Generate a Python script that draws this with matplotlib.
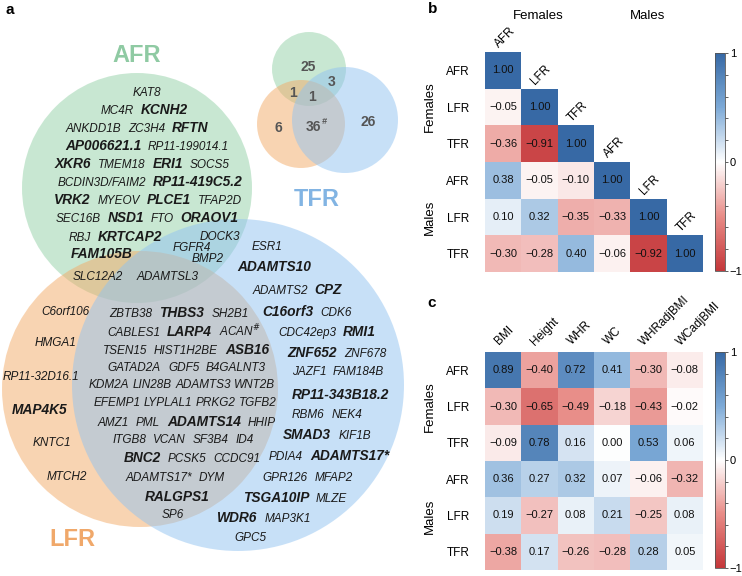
import matplotlib
matplotlib.use("Agg")
import matplotlib.pyplot as plt
import numpy as np
from matplotlib.patches import Circle
from matplotlib.offsetbox import TextArea, HPacker, AnnotationBbox
from matplotlib.colors import LinearSegmentedColormap

plt.rcParams['font.family'] = ['Liberation Sans', 'DejaVu Sans']

# ---------------- data ----------------
set_names = ["AFR", "LFR", "TFR"]
# small Venn counts: AFR only, AFR&TFR, AFR&LFR, all, LFR only, LFR&TFR, TFR only
venn_counts = ["25", "3", "1", "1", "6", "36", "26"]

# gene lines in the big Venn: (name, bold)
gene_lines = [
    [("KAT8", 0)],
    [("MC4R", 0), ("KCNH2", 1)],
    [("ANKDD1B", 0), ("ZC3H4", 0), ("RFTN", 1)],
    [("AP006621.1", 1), ("RP11-199014.1", 0)],
    [("XKR6", 1), ("TMEM18", 0), ("ERI1", 1), ("SOCS5", 0)],
    [("BCDIN3D/FAIM2", 0), ("RP11-419C5.2", 1)],
    [("VRK2", 1), ("MYEOV", 0), ("PLCE1", 1), ("TFAP2D", 0)],
    [("SEC16B", 0), ("NSD1", 1), ("FTO", 0), ("ORAOV1", 1)],
    [("RBJ", 0), ("KRTCAP2", 1)],
    [("DOCK3", 0)],
    [("FAM105B", 1)],
    [("FGFR4", 0)],
    [("BMP2", 0)],
    [("SLC12A2", 0)],
    [("ADAMTSL3", 0)],
    [("C6orf106", 0)],
    [("HMGA1", 0)],
    [("RP11-32D16.1", 0)],
    [("MAP4K5", 1)],
    [("KNTC1", 0)],
    [("MTCH2", 0)],
    [("ZBTB38", 0), ("THBS3", 1), ("SH2B1", 0)],
    [("CABLES1", 0), ("LARP4", 1), ("ACAN$^{\\#}$", 0)],
    [("TSEN15", 0), ("HIST1H2BE", 0), ("ASB16", 1)],
    [("GATAD2A", 0), ("GDF5", 0), ("B4GALNT3", 0)],
    [("KDM2A", 0), ("LIN28B", 0), ("ADAMTS3", 0), ("WNT2B", 0)],
    [("EFEMP1", 0), ("LYPLAL1", 0), ("PRKG2", 0), ("TGFB2", 0)],
    [("AMZ1", 0), ("PML", 0), ("ADAMTS14", 1), ("HHIP", 0)],
    [("ITGB8", 0), ("VCAN", 0), ("SF3B4", 0), ("ID4", 0)],
    [("BNC2", 1), ("PCSK5", 0), ("CCDC91", 0)],
    [("ADAMTS17*", 0), ("DYM", 0)],
    [("RALGPS1", 1)],
    [("SP6", 0)],
    [("ESR1", 0)],
    [("ADAMTS10", 1)],
    [("ADAMTS2", 0), ("CPZ", 1)],
    [("C16orf3", 1), ("CDK6", 0)],
    [("CDC42ep3", 0), ("RMI1", 1)],
    [("ZNF652", 1), ("ZNF678", 0)],
    [("JAZF1", 0), ("FAM184B", 0)],
    [("RP11-343B18.2", 1)],
    [("RBM6", 0), ("NEK4", 0)],
    [("SMAD3", 1), ("KIF1B", 0)],
    [("PDIA4", 0), ("ADAMTS17*", 1)],
    [("GPR126", 0), ("MFAP2", 0)],
    [("TSGA10IP", 1), ("MLZE", 0)],
    [("WDR6", 1), ("MAP3K1", 0)],
    [("GPC5", 0)],
]

fr_labels = ["AFR", "LFR", "TFR", "AFR", "LFR", "TFR"]
sex_labels = ["Females", "Males"]
corr_b = np.array([
    [1.00, np.nan, np.nan, np.nan, np.nan, np.nan],
    [-0.05, 1.00, np.nan, np.nan, np.nan, np.nan],
    [-0.36, -0.91, 1.00, np.nan, np.nan, np.nan],
    [0.38, -0.05, -0.10, 1.00, np.nan, np.nan],
    [0.10, 0.32, -0.35, -0.33, 1.00, np.nan],
    [-0.30, -0.28, 0.40, -0.06, -0.92, 1.00],
])
traits = ["BMI", "Height", "WHR", "WC", "WHRadjBMI", "WCadjBMI"]
corr_c = np.array([
    [0.89, -0.40, 0.72, 0.41, -0.30, -0.08],
    [-0.30, -0.65, -0.49, -0.18, -0.43, -0.02],
    [-0.09, 0.78, 0.16, 0.00, 0.53, 0.06],
    [0.36, 0.27, 0.32, 0.07, -0.06, -0.32],
    [0.19, -0.27, 0.08, 0.21, -0.25, 0.08],
    [-0.38, 0.17, -0.26, -0.28, 0.28, 0.05],
])

# ---------------- layout / style ----------------
W, H = 742, 576
fig = plt.figure(figsize=(W / 100, H / 100), dpi=100)
ax = fig.add_axes([0, 0, 1, 1])
ax.set_xlim(0, W)
ax.set_ylim(H, 0)
ax.axis('off')

col_green = '#93d1a7'
col_orange = '#f3ab67'
col_blue = '#91c3f1'
lab_green = '#8fcaa3'
lab_orange = '#f0a86a'
lab_blue = '#82b4e3'

# big Venn circles
big_circ = [(137, 188, 115, col_green), (140, 389, 138, col_orange), (238, 385, 166, col_blue)]
for cx, cy, r, c in big_circ:
    ax.add_patch(Circle((cx, cy), r, facecolor=c, edgecolor='none', alpha=0.5))

# small Venn circles
small_circ = [(309, 69, 37, col_green), (301, 124, 44, col_orange), (345, 120, 53, col_blue)]
for cx, cy, r, c in small_circ:
    ax.add_patch(Circle((cx, cy), r, facecolor=c, edgecolor='none', alpha=0.5))

count_pos = [(308, 67), (332, 82), (293, 93), (312, 97), (278, 128), (313, 127), (368, 122)]
for (x, y), t in zip(count_pos, venn_counts):
    ax.text(x, y, t, ha='center', va='center', fontsize=10, fontweight='bold', color='#555555')
ax.text(322, 121, '#', ha='left', va='center', fontsize=6.5, fontstyle='italic',
        fontweight='bold', color='#555555')

# set labels
ax.text(137, 56, set_names[0], ha='center', va='center', fontsize=17, fontweight='bold', color=lab_green)
ax.text(72, 540, set_names[1], ha='center', va='center', fontsize=17, fontweight='bold', color=lab_orange)
ax.text(317, 200, set_names[2], ha='center', va='center', fontsize=17, fontweight='bold', color=lab_blue)

line_pos = [
    (147, 93), (144, 110), (137, 128), (147, 146), (142, 164), (150, 182), (148, 200), (147, 218),
    (115, 237), (220, 237), (102, 254), (192, 248), (208, 259), (98, 277), (168, 277),
    (65, 312), (56, 343), (41, 377), (40, 410), (52, 443), (67, 477),
    (179, 313), (184, 331), (186, 350), (187, 368), (182, 385), (185, 403), (187, 422),
    (183, 440), (192, 458), (175, 478), (177, 497), (173, 515),
    (267, 247), (274, 267), (297, 290), (307, 312), (327, 332), (337, 353), (338, 372),
    (340, 395), (327, 415), (327, 435), (329, 456), (308, 478), (295, 498), (264, 518), (250, 538),
]
tight_lines = {25: 2.5, 26: 2.5}

for k, (segs, (x, y)) in enumerate(zip(gene_lines, line_pos)):
    kids = []
    for name, b in segs:
        kids.append(TextArea(name, textprops=dict(
            fontsize=9.9 if b else 8.5, fontstyle='italic',
            fontweight='bold' if b else 'normal', color='#1a1a1a')))
    pack = HPacker(children=kids, align='baseline', pad=0, sep=tight_lines.get(k, 5.0))
    ab = AnnotationBbox(pack, (x, y), xycoords='data', frameon=False,
                        box_alignment=(0.5, 0.5), pad=0)
    ax.add_artist(ab)

# panel labels
ax.text(5, 10, 'a', ha='left', va='center', fontsize=11, fontweight='bold')
ax.text(428, 9, 'b', ha='left', va='center', fontsize=11, fontweight='bold')
ax.text(427, 303, 'c', ha='left', va='center', fontsize=11, fontweight='bold')

# ---------------- heatmaps ----------------
cmap = LinearSegmentedColormap.from_list('cc', [
    (0.0, (196 / 255, 55 / 255, 58 / 255)),
    (0.25, (232 / 255, 140 / 255, 135 / 255)),
    (0.5, (1, 1, 1)),
    (0.75, (125 / 255, 170 / 255, 215 / 255)),
    (1.0, (55 / 255, 105 / 255, 165 / 255)),
])


def fmt(v):
    s = '%.2f' % abs(v)
    return ('\u2212' + s) if v < 0 else s


def heat(rect, data):
    axh = fig.add_axes(rect)
    m = np.ma.masked_invalid(data)
    im = axh.imshow(m, cmap=cmap, vmin=-1, vmax=1, aspect='auto', interpolation='nearest')
    for i in range(data.shape[0]):
        for j in range(data.shape[1]):
            if not np.isnan(data[i, j]):
                axh.text(j, i, fmt(data[i, j]), ha='center', va='center', fontsize=8, color='#111111')
    for s in axh.spines.values():
        s.set_visible(False)
    axh.set_xticks([])
    axh.set_yticks(range(len(fr_labels)), fr_labels, fontsize=8.5)
    axh.tick_params(axis='y', length=0, pad=11)
    return axh, im


def cbar(rect, im):
    cax = fig.add_axes(rect)
    cb = fig.colorbar(im, cax=cax)
    tks = np.round(np.arange(-1, 1.01, 0.2), 1)
    cb.set_ticks(tks)
    cb.set_ticklabels(['\u22121' if abs(t + 1) < 1e-6 else ('0' if abs(t) < 1e-6 else
                       ('1' if abs(t - 1) < 1e-6 else '')) for t in tks])
    cax.tick_params(length=2, width=0.6, labelsize=8, pad=1.5, color='#444444')
    cb.outline.set_linewidth(0.6)
    cb.outline.set_edgecolor('#555555')
    return cb


axb, imb = heat([485 / W, (H - 272) / H, 218 / W, 220 / H], corr_b)
for i, lab in enumerate(fr_labels):
    axb.text(i - 0.12, i - 0.6, lab, rotation=45, rotation_mode='anchor', ha='left', va='baseline',
             fontsize=8.5, clip_on=False)
cbar([715 / W, (H - 271) / H, 10 / W, 218 / H], imb)

axc, imc = heat([485 / W, 6 / H, 218 / W, 218 / H], corr_c)
for j, lab in enumerate(traits):
    axc.text(j - 0.12, -0.68, lab, rotation=45, rotation_mode='anchor', ha='left', va='baseline',
             fontsize=8.5, clip_on=False)
cbar([715 / W, 8 / H, 10 / W, 216 / H], imc)

# group labels
for y, t in [(107, sex_labels[0]), (217, sex_labels[1]), (407, sex_labels[0]), (516, sex_labels[1])]:
    ax.text(430, y, t, rotation=90, ha='center', va='center', fontsize=9.5)
ax.text(538, 16, sex_labels[0], ha='center', va='center', fontsize=9.5)
ax.text(648, 16, sex_labels[1], ha='center', va='center', fontsize=9.5)

fig.savefig('out.png', dpi=100)
